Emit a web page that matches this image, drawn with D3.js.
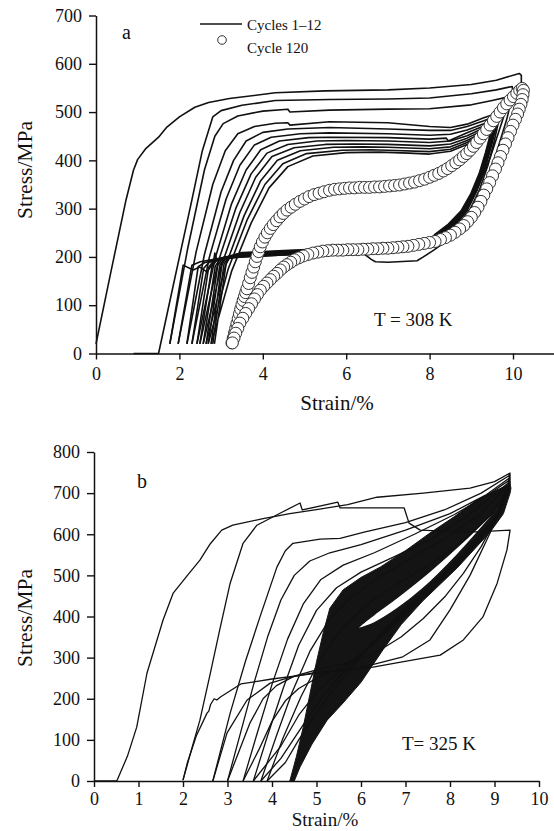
<!DOCTYPE html>
<html><head><meta charset="utf-8">
<script src="https://cdn.jsdelivr.net/npm/d3@7"></script>
<style>
body{margin:0;background:#fff}
text{font-family:"Liberation Serif","Times New Roman",serif;fill:#111}
</style>
</head><body><svg id="c" width="554" height="831"></svg>
<script>
// ---------- Panel a (T = 308 K) ----------
const aXTicks = [0, 2, 4, 6, 8, 10];
const aYTicks = [0, 100, 200, 300, 400, 500, 600, 700];

const aCycle1 = [[0,20],[0.36,170],[0.72,318],[0.9,380],[1.0,402],[1.2,425],[1.5,448],[1.7,469],[2.0,490],[2.37,510],[2.7,520],[3.2,528],[4.3,540],[5.5,544],[7,546],[8,550],[9,557],[9.6,566],[10.15,580],
 [10.2,576],[10.2,558],[10.05,505],[9.85,445],[9.6,390],[9.3,335],[9.0,292],[8.7,258],[8.4,233],[8.1,214],[7.85,200],[7.7,192],[7.0,189],[6.7,190],[6.6,195],[6.45,205],[6.2,209],[5.5,208],[4.5,204],[3.5,200],[3.05,198],[2.9,193],[2.85,208],[2.81,187],[2.66,169],[2.49,179],[2.33,173],[2.09,183],[1.77,20]];
const aCycle2 = [[0.9,0],[1.5,0],[1.9,160],[2.3,318],[2.55,420],[2.8,490],[3.0,503],[3.5,514],[4.3,524],[5.6,526],[7,527],[8,529],[9,538],[9.6,546],[9.98,553],
 [10.0,540],[9.85,485],[9.6,415],[9.35,360],[9.05,308],[8.7,268],[8.3,240],[8.0,226],[7.5,218],[6.5,213],[5.5,209],[4.5,205],[3.5,201],[2.9,196],[2.5,190],[2.3,183],[1.97,20]];
const aCycle3 = [[1.77,20],[2.2,218],[2.6,380],[2.85,450],[3.05,476],[3.4,492],[4.0,502],[4.6,506],[4.65,500],[5.6,504],[7,506],[8,507],[9,515],[9.5,524],[9.86,531],
 [9.88,518],[9.7,470],[9.45,405],[9.2,352],[8.9,303],[8.55,262],[8.2,238],[7.9,225],[7.4,217],[6.5,212],[5.5,208],[4.5,204],[3.5,200],[2.9,195],[2.6,188],[2.45,180],[2.18,20]];
const aCycle4 = [[1.97,20],[2.4,210],[2.8,350],[3.1,420],[3.4,455],[3.8,470],[4.3,477],[4.6,478],[4.65,473],[5.6,480],[7,478],[8,470],[8.5,468],[8.9,475],[9.3,488],[9.64,498],
 [9.66,483],[9.55,440],[9.4,390],[9.2,340],[8.95,295],[8.65,262],[8.3,238],[8.0,226],[7.5,218],[6.5,213],[5.5,209],[4.5,205],[3.5,201],[2.9,196],[2.7,188],[2.58,176],[2.30,20]];
const aCycle5 = [[2.18,20],[2.6,205],[3.0,335],[3.3,400],[3.6,440],[4.0,458],[4.6,465],[5.6,468],[7,465],[8,462],[8.5,462],[8.9,470],[9.3,482],[9.6,492],
 [9.62,478],[9.5,436],[9.35,388],[9.15,340],[8.9,296],[8.6,263],[8.25,239],[8.0,227],[7.5,219],[6.5,214],[5.5,210],[4.5,206],[3.5,202],[3.0,198],[2.8,190],[2.7,178],[2.42,20]];
const aCycle6 = [[2.30,20],[2.72,200],[3.12,320],[3.45,390],[3.8,432],[4.2,448],[4.9,455],[5.6,457],[7,455],[8,452],[8.5,454],[8.9,463],[9.3,476],[9.57,487],
 [9.59,473],[9.47,432],[9.32,385],[9.12,338],[8.88,296],[8.58,264],[8.24,240],[8.0,228],[7.5,220],[6.5,215],[5.5,211],[4.5,207],[3.5,203],[3.05,199],[2.88,191],[2.78,180],[2.49,20]];
const aCycle7 = [[2.42,20],[2.85,195],[3.25,310],[3.6,380],[3.95,422],[4.4,440],[5.1,447],[5.6,448],[7,447],[8,444],[8.4,446],[8.45,440],[8.9,457],[9.3,471],[9.54,483],
 [9.56,469],[9.44,428],[9.29,382],[9.09,336],[8.85,295],[8.55,264],[8.22,241],[8.0,229],[7.5,221],[6.5,216],[5.5,212],[4.5,208],[3.5,204],[3.1,200],[2.95,192],[2.86,181],[2.57,20]];
const aCycle8 = [[2.49,20],[2.93,190],[3.35,300],[3.72,372],[4.1,415],[4.6,433],[5.3,440],[6,441],[7,440],[8,437],[8.5,440],[8.9,451],[9.3,467],[9.52,480],
 [9.54,466],[9.42,425],[9.27,380],[9.07,335],[8.83,295],[8.53,265],[8.2,242],[8.0,230],[7.5,222],[6.5,217],[5.5,213],[4.5,209],[3.5,205],[3.15,201],[3.0,193],[2.92,182],[2.64,20]];
const aCycle9 = [[2.57,20],[3.02,185],[3.45,292],[3.83,365],[4.22,408],[4.75,426],[5.5,433],[6.2,434],[7,433],[8,430],[8.5,434],[8.9,446],[9.3,463],[9.5,477],
 [9.52,463],[9.4,422],[9.25,378],[9.05,334],[8.81,295],[8.51,266],[8.18,243],[8.0,231],[7.5,223],[6.5,218],[5.5,214],[4.5,210],[3.5,206],[3.2,202],[3.05,194],[2.97,183],[2.69,20]];
const aCycle10 = [[2.64,20],[3.1,180],[3.55,285],[3.95,358],[4.35,400],[4.9,420],[5.7,427],[6.4,428],[7,427],[8,424],[8.5,428],[8.9,441],[9.3,459],[9.48,474],
 [9.5,460],[9.38,420],[9.23,376],[9.03,333],[8.79,295],[8.49,266],[8.16,244],[8.0,232],[7.5,224],[6.5,219],[5.5,215],[4.5,211],[3.5,207],[3.25,203],[3.1,195],[3.02,184],[2.76,20]];
const aCycle11 = [[2.69,20],[3.17,175],[3.63,278],[4.05,350],[4.48,393],[5.05,414],[5.9,421],[6.6,422],[7,421],[8,418],[8.5,423],[8.9,437],[9.3,456],[9.46,471],
 [9.48,457],[9.36,418],[9.21,375],[9.01,332],[8.77,295],[8.47,267],[8.14,245],[8.0,233],[7.5,225],[6.5,220],[5.5,216],[4.5,212],[3.5,208],[3.3,204],[3.15,196],[3.07,185],[2.80,20]];
const aCycle12 = [[2.76,20],[3.25,170],[3.72,270],[4.15,343],[4.6,387],[5.2,409],[6.0,416],[6.8,417],[7.5,415],[8,413],[8.5,419],[8.9,433],[9.3,453],[9.44,468],
 [9.46,455],[9.34,416],[9.19,373],[8.99,331],[8.75,295],[8.45,268],[8.12,246],[8.0,234],[7.5,226],[6.5,221],[5.5,217],[4.5,213],[3.5,209],[3.35,205],[3.2,197],[3.12,186],[2.84,20]];
const aCycles = [aCycle1,aCycle2,aCycle3,aCycle4,aCycle5,aCycle6,aCycle7,aCycle8,aCycle9,aCycle10,aCycle11,aCycle12];

const aCycle120Load = [[3.26,22],[3.29,32],[3.32,42],[3.35,52],[3.38,62],[3.41,72],[3.44,82],[3.47,92],[3.50,101],[3.53,110],[3.56,118],[3.59,126],[3.62,134],[3.66,145],[3.70,157],[3.74,168],[3.78,179],[3.82,190],[3.86,201],[3.90,211],[3.94,221],[3.99,231],[4.05,241],[4.11,250],[4.18,259],[4.25,267],[4.33,275],[4.41,283],[4.49,290],[4.58,297],[4.68,303],[4.78,309],[4.89,315],[5.00,320],[5.11,325],[5.23,329],[5.35,332],[5.47,335],[5.60,338],[5.72,340],[5.84,341],[5.96,342],[6.08,343],[6.20,343],[6.32,344],[6.44,344],[6.56,344],[6.68,345],[6.80,345],[6.92,346],[7.04,347],[7.16,348],[7.28,349],[7.40,351],[7.52,353],[7.64,355],[7.76,358],[7.88,361],[8.00,365],[8.11,369],[8.22,373],[8.33,378],[8.43,383],[8.53,389],[8.63,395],[8.72,401],[8.81,408],[8.89,414],[8.97,421],[9.05,429],[9.13,437],[9.21,446],[9.29,455],[9.37,464],[9.45,473],[9.53,482],[9.61,491],[9.69,500],[9.77,509],[9.85,517],[9.93,525],[10.01,532],[10.09,539],[10.16,545],[10.22,549]];
const aCycle120Unload = [[10.25,545],[10.24,536],[10.22,526],[10.19,516],[10.15,506],[10.11,496],[10.06,485],[10.00,473],[9.94,460],[9.88,447],[9.82,434],[9.76,421],[9.70,408],[9.64,395],[9.58,382],[9.51,368],[9.44,354],[9.37,341],[9.30,328],[9.23,315],[9.16,303],[9.08,292],[9.00,282],[8.91,273],[8.82,265],[8.72,258],[8.61,251],[8.50,245],[8.38,240],[8.26,236],[8.13,232],[8.00,230],[7.87,228],[7.74,226],[7.61,224],[7.48,222],[7.36,221],[7.24,220],[7.12,219],[7.00,218],[6.88,218],[6.76,217],[6.64,217],[6.52,216],[6.40,216],[6.28,215],[6.16,215],[6.04,215],[5.92,214],[5.80,214],[5.68,214],[5.56,213],[5.44,212],[5.32,210],[5.20,208],[5.08,205],[4.97,202],[4.86,198],[4.76,194],[4.67,189],[4.58,184],[4.50,179],[4.42,173],[4.34,166],[4.26,160],[4.18,153],[4.10,146],[4.02,139],[3.94,131],[3.87,122],[3.80,113],[3.73,103],[3.66,93],[3.59,83],[3.52,73],[3.45,63],[3.40,52],[3.35,42],[3.31,32],[3.27,22]];

// ---------- Panel b (T = 325 K) ----------
const bXTicks = [0,1,2,3,4,5,6,7,8,9,10];
const bYTicks = [0,100,200,300,400,500,600,700,800];

const bCycle1 = [[0,0],[0.5,0],[0.52,2],[0.75,60],[0.96,131],[1.19,262],[1.55,391],[1.78,457],[2.1,500],[2.38,537],[2.6,575],[2.87,610],[3.12,622],[3.8,638],[4.4,650],[5.0,660],[5.7,672],[6.36,690],[7.4,700],[8.45,712],[9.0,728],[9.35,749],
 [9.3,720],[9.1,660],[8.9,603],[8.45,500],[8.0,416],[7.55,343],[6.94,302],[6.04,277],[5.2,265],[4.5,255],[4.0,248],[3.3,236],[2.85,205],[2.76,197],[2.7,200],[2.62,186],[2.58,170],[2.54,165],[2.3,110],[2.1,45],[2.0,2]];
const bCycle2 = [[2.0,2],[2.2,80],[2.38,148],[2.6,255],[2.83,370],[3.06,481],[3.35,578],[3.66,622],[4.18,651],[4.63,676],[4.68,659],[5.48,678],[5.53,664],[6.97,664],[7.08,627],[7.33,610],[8.0,607],[8.6,606],[9.35,610],
 [9.28,562],[9.06,481],[8.74,399],[8.3,343],[7.78,306],[6.8,287],[6.27,277],[5.5,268],[4.92,263],[4.4,252],[3.96,238],[3.44,197],[2.99,117],[2.67,0]];
const bCycle3 = [[2.67,0],[3.06,165],[3.4,290],[3.73,399],[4.11,520],[4.3,560],[4.47,578],[5.08,588],[5.53,590],[6.07,605],[7.0,628],[7.87,659],[8.7,700],[9.35,744],
 [9.3,710],[9.05,640],[8.7,570],[8.3,505],[7.9,450],[7.4,395],[6.9,350],[6.3,310],[5.6,285],[5.0,270],[4.5,255],[4.1,232],[3.8,200],[3.5,140],[3.25,70],[3.0,0]];
const bCycle4 = [[3.0,0],[3.3,120],[3.6,240],[3.9,350],[4.2,440],[4.5,500],[4.85,535],[5.3,555],[6.0,575],[7.0,610],[8.0,650],[8.8,695],[9.35,738],
 [9.3,705],[9.05,640],[8.7,590],[8.3,540],[7.9,495],[7.4,445],[6.9,395],[6.4,345],[5.9,300],[5.4,268],[5.0,250],[4.6,225],[4.3,195],[4.0,145],[3.7,75],[3.35,0]];
const bCycle5 = [[3.35,0],[3.65,110],[4.0,235],[4.35,345],[4.7,430],[5.1,490],[5.6,525],[6.3,555],[7.2,600],[8.1,648],[8.8,692],[9.35,733],
 [9.3,703],[9.05,643],[8.7,594],[8.3,545],[7.9,500],[7.4,450],[6.9,400],[6.4,350],[5.9,300],[5.4,255],[5.0,215],[4.6,160],[4.2,85],[3.58,0]];
const bCycle6 = [[3.58,0],[3.9,110],[4.25,225],[4.6,330],[5.0,415],[5.45,470],[6.0,508],[6.8,548],[7.6,590],[8.4,645],[9.35,728],
 [9.3,700],[9.05,646],[8.7,598],[8.3,550],[7.9,505],[7.4,455],[6.9,405],[6.4,352],[5.9,295],[5.4,240],[5.0,185],[4.6,120],[4.2,55],[3.75,0]];
const bCycle7 = [[3.75,0],[4.1,110],[4.45,215],[4.85,315],[5.3,395],[5.8,450],[6.4,495],[7.1,540],[7.9,590],[8.7,650],[9.35,725],
 [9.3,698],[9.05,648],[8.7,601],[8.3,554],[7.9,509],[7.4,460],[6.9,410],[6.4,354],[5.9,290],[5.4,225],[5.0,165],[4.6,100],[4.3,45],[3.89,0]];
const bCycle8 = [[3.89,0],[4.25,105],[4.65,205],[5.1,300],[5.6,375],[6.2,435],[6.9,485],[7.6,530],[8.3,585],[8.9,645],[9.35,722]];
const bCycles = [bCycle1,bCycle2,bCycle3,bCycle4,bCycle5,bCycle6,bCycle7,bCycle8];

// outline of the dense band formed by the later cycles, and the open loop inside it
const bDenseBand = [[4.4,0],[4.55,60],[4.7,130],[4.85,210],[5.0,290],[5.15,360],[5.3,420],[5.6,465],[6.0,495],[6.43,520],[7.0,560],[7.55,603],[8.1,643],[8.6,683],[9.0,705],[9.35,722],
 [9.37,712],[9.35,700],[9.2,650],[8.9,605],[8.16,518],[7.39,438],[6.9,380],[6.5,320],[6.0,240],[5.6,190],[5.24,148],[4.9,90],[4.63,34],[4.5,0]];
const bDenseGap = [[5.95,372],[6.3,405],[6.8,445],[7.55,510],[8.3,582],[8.9,645],[9.15,672],[8.9,640],[8.16,550],[7.39,468],[6.8,418],[6.3,385]];

// ---------- drawing ----------
const svg = d3.select("#c");
const FONT = '"Liberation Serif","Times New Roman",serif';

function axisStyle(g){
  g.selectAll("path.domain").attr("stroke","#111").attr("stroke-width",1.5);
  g.selectAll(".tick line").attr("stroke","#111").attr("stroke-width",1.4);
  g.selectAll(".tick text").attr("font-family",FONT).attr("font-size",18).attr("fill","#111");
}

// Panel a
const xA = d3.scaleLinear().domain([0,11]).range([96,554.7]);
const yA = d3.scaleLinear().domain([0,700]).range([353.5,15.5]);
const lineA = d3.line().x(d=>xA(d[0])).y(d=>yA(d[1]));

const gA = svg.append("g");
gA.selectAll("path.cyc").data(aCycles).join("path").attr("class","cyc")
  .attr("d",lineA).attr("fill","none").attr("stroke","#111").attr("stroke-width",1.6).attr("stroke-linejoin","round");

const c120 = aCycle120Load.concat(aCycle120Unload);
gA.selectAll("circle.c120").data(c120).join("circle").attr("class","c120")
  .attr("cx",d=>xA(d[0])).attr("cy",d=>yA(d[1])).attr("r",6)
  .attr("fill","#fff").attr("stroke","#333").attr("stroke-width",1);

gA.append("g").attr("transform","translate(0,353.5)")
  .call(d3.axisBottom(xA).tickValues(aXTicks).tickSize(6).tickSizeOuter(0).tickPadding(8)).call(axisStyle);
gA.append("g").attr("transform","translate(96,0)")
  .call(d3.axisLeft(yA).tickValues(aYTicks).tickSize(7).tickSizeOuter(0).tickPadding(7)).call(axisStyle);

svg.append("text").attr("x",337).attr("y",410).attr("text-anchor","middle").attr("font-size",21).text("Strain/%");
svg.append("text").attr("transform","translate(32,170) rotate(-90)").attr("text-anchor","middle").attr("font-size",21.5).text("Stress/MPa");
svg.append("text").attr("x",122).attr("y",39).attr("font-size",20).text("a");
svg.append("text").attr("x",374).attr("y",326).attr("font-size",19).text("T = 308 K");

// legend
svg.append("line").attr("x1",200).attr("x2",242).attr("y1",24).attr("y2",24).attr("stroke","#111").attr("stroke-width",1.6);
svg.append("text").attr("x",247).attr("y",30).attr("font-size",15).text("Cycles 1\u201312");
svg.append("circle").attr("cx",222).attr("cy",40).attr("r",4.3).attr("fill","#fff").attr("stroke","#333").attr("stroke-width",1);
svg.append("text").attr("x",247).attr("y",53).attr("font-size",15).text("Cycle 120");

// Panel b
const xB = d3.scaleLinear().domain([0,10]).range([94,539]);
const yB = d3.scaleLinear().domain([0,800]).range([781,452]);
const lineB = d3.line().x(d=>xB(d[0])).y(d=>yB(d[1]));
const gB = svg.append("g");
gB.append("path").attr("d",lineB(bDenseBand)+"Z")
  .attr("fill","#141414").attr("stroke","#141414").attr("stroke-width",1).attr("stroke-linejoin","round");
gB.append("path").attr("d",d3.line().x(d=>xB(d[0])).y(d=>yB(d[1])).curve(d3.curveCatmullRomClosed)(bDenseGap))
  .attr("fill","#fff").attr("stroke","#141414").attr("stroke-width",1.2);
gB.selectAll("path.cyc").data(bCycles).join("path").attr("class","cyc")
  .attr("d",lineB).attr("fill","none").attr("stroke","#111").attr("stroke-width",1.3).attr("stroke-linejoin","round");

gB.append("g").attr("transform","translate(0,781)")
  .call(d3.axisBottom(xB).tickValues(bXTicks).tickSize(6).tickSizeOuter(0).tickPadding(5)).call(axisStyle);
gB.append("g").attr("transform","translate(94,0)")
  .call(d3.axisLeft(yB).tickValues(bYTicks).tickSize(7).tickSizeOuter(0).tickPadding(7)).call(axisStyle);

svg.append("text").attr("x",325).attr("y",826).attr("text-anchor","middle").attr("font-size",19).text("Strain/%");
svg.append("text").attr("transform","translate(32,618) rotate(-90)").attr("text-anchor","middle").attr("font-size",21.5).text("Stress/MPa");
svg.append("text").attr("x",137).attr("y",488).attr("font-size",20).text("b");
svg.append("text").attr("x",402).attr("y",750).attr("font-size",19).text("T= 325 K");
</script></body></html>
